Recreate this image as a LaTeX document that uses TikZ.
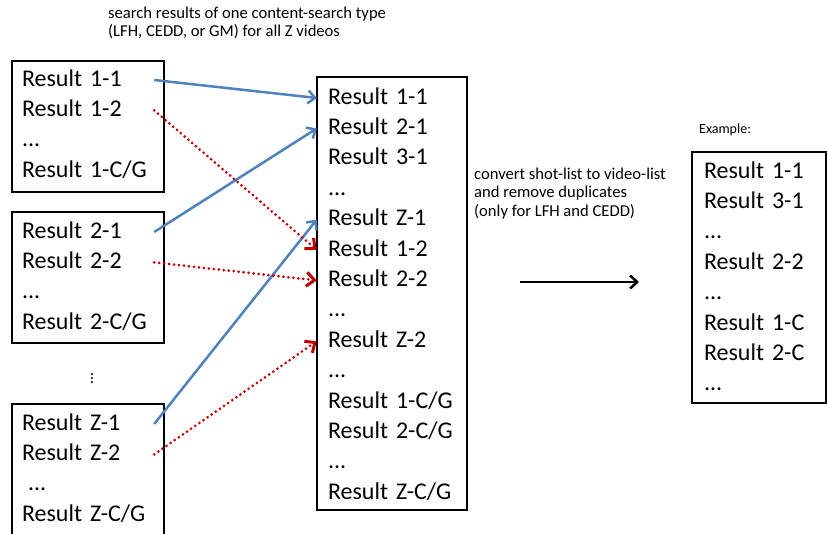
\documentclass[tikz,border=0pt]{standalone}
\usepackage{fontspec}
\setmainfont{Carlito}
\usetikzlibrary{arrows.meta,positioning}
\definecolor{arrowblue}{RGB}{79,129,189}
\definecolor{arrowred}{RGB}{192,0,0}

\begin{document}
\begin{tikzpicture}[
      x=1pt,y=-1pt,
      node distance=0pt,
      listbox/.style={draw,line width=2pt,inner sep=0pt},
      entry/.style={font=\fontsize{24}{29}\selectfont,execute at begin node={\exhyphenpenalty=10000\relax},align=left,inner ysep=0pt,minimum height=30pt,text height=17pt,text depth=5pt},
      leftentry/.style={entry,inner xsep=10pt,text width=122pt},
      midentry/.style={entry,inner xsep=11pt,text width=128pt},
      rightentry/.style={entry,inner xsep=12pt,text width=110pt},
      note/.style={font=\fontsize{16.6}{18.3}\selectfont,align=left,inner sep=0pt},
      bluearrow/.style={draw=arrowblue,line width=2.5pt,-{Straight Barb[length=7pt,width=13pt]}},
      redarrow/.style={draw=arrowred,line width=3pt,line cap=round,dash pattern=on 0pt off 5pt,-{Straight Barb[length=8pt,width=14pt]}},
      convarrow/.style={draw=black,line width=2.5pt,-{Straight Barb[length=7pt,width=13pt]}}
    ]
      \useasboundingbox (0,0) rectangle (827,533);

      % result lists of the single videos
      \node[listbox,minimum width=152pt,minimum height=131pt] (box1) at (88,126) {};
      \node[leftentry] (a11) at (83,80) {Result 1-1};
      \node[leftentry,below=of a11] (a12) {Result 1-2};
      \node[leftentry,below=of a12] (a13) {...};
      \node[leftentry,below=of a13] (a14) {Result~1-C/G};

      \node[listbox,minimum width=152pt,minimum height=131pt] (box2) at (88,277.5) {};
      \node[leftentry] (b11) at (83,232) {Result 2-1};
      \node[leftentry,below=of b11] (b12) {Result 2-2};
      \node[leftentry,below=of b12] (b13) {...};
      \node[leftentry,below=of b13] (b14) {Result~2-C/G};

      \node[font=\fontsize{17}{17}\selectfont,inner sep=0pt] (vdots) at (92,376) {$\vdots$};

      \node[listbox,minimum width=152pt,minimum height=131pt] (box3) at (88,469.5) {};
      \node[leftentry] (z11) at (83,424) {Result Z-1};
      \node[leftentry,below=of z11] (z12) {Result Z-2};
      \node[leftentry,below=of z12,xshift=6pt] (z13) {...};
      \node[leftentry,below=of z13,xshift=-6pt] (z14) {Result~Z-C/G};

      % merged list
      \node[listbox,minimum width=150pt,minimum height=433pt] (merged) at (392,293.5) {};
      \node[midentry] (m11) at (392,98) {Result 1-1};
      \node[midentry,below=of m11] (m21) {Result 2-1};
      \node[midentry,below=of m21] (m31) {Result 3-1};
      \node[midentry,below=of m31] (md1) {...};
      \node[midentry,below=of md1] (mz1) {Result Z-1};
      \node[midentry,below=of mz1] (m12) {Result 1-2};
      \node[midentry,below=of m12] (m22) {Result 2-2};
      \node[midentry,below=of m22] (md2) {...};
      \node[midentry,below=of md2] (mz2) {Result Z-2};
      \node[midentry,below=of mz2] (md3) {...};
      \node[midentry,below=of md3] (m1g) {Result 1-C/G};
      \node[midentry,below=of m1g] (m2g) {Result 2-C/G};
      \node[midentry,below=of m2g] (md4) {...};
      \node[midentry,below=of md4] (mzg) {Result Z-C/G};

      % example list
      \node[listbox,minimum width=134pt,minimum height=251pt] (example) at (759,277.5) {};
      \node[rightentry] (e11) at (759,172) {Result 1-1};
      \node[rightentry,below=of e11] (e31) {Result 3-1};
      \node[rightentry,below=of e31] (ed1) {...};
      \node[rightentry,below=of ed1] (e22) {Result 2-2};
      \node[rightentry,below=of e22] (ed2) {...};
      \node[rightentry,below=of ed2] (e1c) {Result 1-C};
      \node[rightentry,below=of e1c] (e2c) {Result 2-C};
      \node[rightentry,below=of e2c] (ed3) {...};

      % notes
      \node[note,anchor=base west] (title) at (108,36.5) {search results of one\ content-search type\\(LFH, CEDD, or GM)\ for all Z videos};
      \node[note,anchor=base west] (convnote) at (474,216) {convert shot-list to video-list\\and remove duplicates\\(only for LFH and CEDD)};
      \node[note,font=\fontsize{14}{16}\selectfont,anchor=base west] (exlabel) at (699,133.5) {Example:};

      \draw[bluearrow] (a11.east) -- (m11.west);
      \draw[bluearrow] (b11.east) -- (m21.west);
      \draw[bluearrow] (z11.east) -- (mz1.west);
      \draw[redarrow] (a12.east) -- (m12.west);
      \draw[redarrow] (b12.east) -- (m22.west);
      \draw[redarrow] (z12.east) -- (mz2.west);

      \coordinate (convstart) at (520,282);
      \coordinate (convend) at (639,282);
      \draw[convarrow] (convstart) -- (convend);
    \end{tikzpicture}
\end{document}
